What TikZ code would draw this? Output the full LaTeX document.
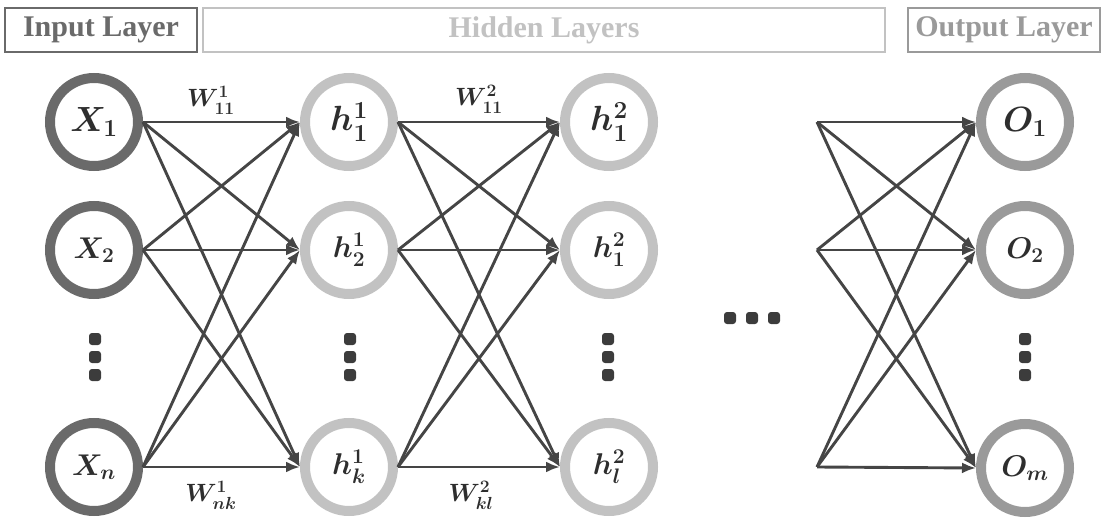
\RequirePackage{fix-cm}
\documentclass[tikz,border=0pt]{standalone}
\usepackage{amsmath}
\usepackage{fontspec}
\setmainfont{Liberation Serif}
\usetikzlibrary{arrows.meta}
\definecolor{inC}{HTML}{6A6A6A}
\definecolor{hidC}{HTML}{C2C2C2}
\definecolor{outC}{HTML}{9A9A9A}
\definecolor{edgeC}{HTML}{454545}
\definecolor{txtC}{HTML}{2E2E2E}
\definecolor{dotC}{HTML}{3C3C3C}
\begin{document}
\begin{tikzpicture}[x=1pt,y=-1pt,
  neuron/.style={circle, minimum size=88pt, inner sep=0pt, line width=10pt, outer sep=5pt, fill=white, text=txtC},
  big/.style={font=\fontsize{35}{37}\selectfont\boldmath},
  small/.style={font=\fontsize{30}{32}\selectfont\boldmath},
  hdr/.style={draw, line width=1.5pt, minimum height=44pt, inner sep=0pt, font=\fontsize{30}{32}\selectfont\bfseries},
  edge/.style={draw=edgeC, line width=2.9pt, -{Latex[length=14pt,width=11pt]}},
  wlab/.style={text=txtC, font=\fontsize{25}{27}\selectfont\boldmath},
  dotbox/.style={fill=dotC, minimum size=12pt, inner sep=0pt, rounded corners=3pt}
]
\useasboundingbox (0,0) rectangle (1101,524);
% headers
\node[hdr, draw=inC, text=inC, minimum width=192pt] (hin) at (101,30) {Input Layer};
\node[hdr, draw=hidC, text=hidC, minimum width=682pt] (hhid) at (544,30) {Hidden Layers};
\node[hdr, draw=outC, text=outC, minimum width=192pt] (hout) at (1004,30) {Output Layer};
% input
\node[neuron, draw=inC, big] (x1) at (94,122) {$X_1$};
\node[neuron, draw=inC, small] (x2) at (94,250) {$X_2$};
\node[neuron, draw=inC, small] (xn) at (94,467) {$X_n$};
% hidden 1
\node[neuron, draw=hidC, big] (a1) at (349,122) {$h_1^1$};
\node[neuron, draw=hidC, small] (a2) at (349,250) {$h_2^1$};
\node[neuron, draw=hidC, small] (ak) at (349,467) {$h_k^1$};
% hidden 2
\node[neuron, draw=hidC, big] (b1) at (609,122) {$h_1^2$};
\node[neuron, draw=hidC, small] (b2) at (609,250) {$h_1^2$};
\node[neuron, draw=hidC, small] (bl) at (609,467) {$h_l^2$};
% output
\node[neuron, draw=outC, big] (o1) at (1025,122) {$O_1$};
\node[neuron, draw=outC, small] (o2) at (1025,250) {$O_2$};
\node[neuron, draw=outC, small] (om) at (1025,468) {$O_m$};
% free sources
\coordinate (s1) at (817,122);
\coordinate (s2) at (817,250);
\coordinate (s3) at (817,467);
% edges
\foreach \s in {x1,x2,xn}{\foreach \t in {a1,a2,ak}{\draw[edge] (\s.east) -- (\t.west);}}
\foreach \s in {a1,a2,ak}{\foreach \t in {b1,b2,bl}{\draw[edge] (\s.east) -- (\t.west);}}
\foreach \s in {s1,s2,s3}{\foreach \t in {o1,o2,om}{\draw[edge] (\s) -- (\t.west);}}
% weights
\node[wlab] (w1) at (211,100) {$W^{1}_{11}$};
\node[wlab] (w2) at (211,495) {$W^{1}_{nk}$};
\node[wlab] (w3) at (479,99) {$W^{2}_{11}$};
\node[wlab] (w4) at (471,495) {$W^{2}_{kl}$};
% dots
\foreach \c/\x in {i/95,p/350,q/608,r/1025}{
  \node[dotbox] (d\c1) at (\x,339) {};
  \node[dotbox] (d\c2) at (\x,357) {};
  \node[dotbox] (d\c3) at (\x,375) {};
}
\node[dotbox] (h1) at (730,318) {};
\node[dotbox] (h2) at (752,318) {};
\node[dotbox] (h3) at (774,318) {};
\end{tikzpicture}
\end{document}
